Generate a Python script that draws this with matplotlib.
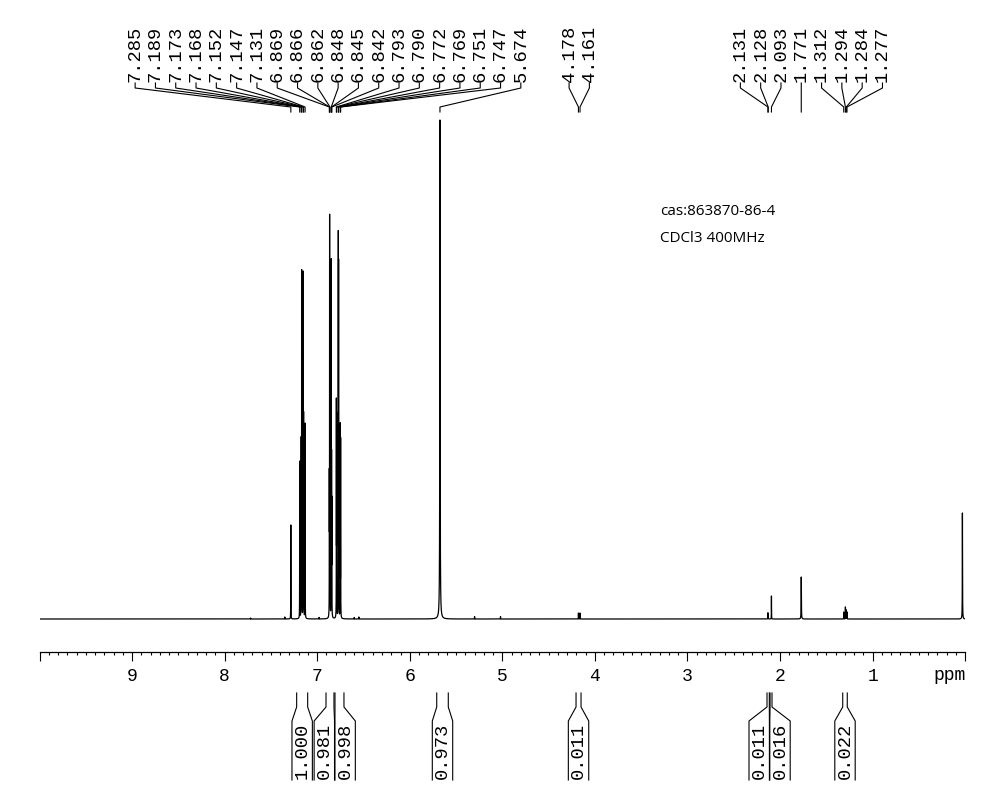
import numpy as np
import matplotlib.pyplot as plt
from matplotlib.ticker import MultipleLocator

# labelled lines (ppm) and their heights above the baseline
peak_ppm = [7.285, 7.189, 7.173, 7.168, 7.152, 7.147, 7.131,
            6.869, 6.866, 6.862, 6.848, 6.845, 6.842,
            6.793, 6.790, 6.772, 6.769, 6.751, 6.747,
            5.674, 4.178, 4.161,
            2.131, 2.128, 2.093, 1.771,
            1.312, 1.294, 1.284, 1.277]
peak_height = [94, 157, 175, 345, 343, 200, 195,
               128, 392, 180, 350, 145, 110,
               210, 195, 370, 340, 190, 175,
               499, 6, 6,
               6, 5, 23, 42,
               7, 12, 9, 7]

# unlabelled lines: TMS and a few small impurity bumps
extra_ppm = [0.03, 7.35, 7.72, 6.98, 6.60, 6.55, 5.30, 5.02]
extra_height = [106, 2, 1, 1.5, 1.5, 2, 2.5, 2.5]

# integrals
integral_from = [7.222, 6.905, 6.808, 5.709, 4.204, 2.141, 2.108, 1.323]
integral_to = [7.103, 6.819, 6.711, 5.584, 4.150, 2.116, 2.087, 1.274]
integral_value = ["1.000", "0.981", "0.998", "0.973", "0.011", "0.011", "0.016", "0.022"]

sample_info = ["cas:863870-86-4", "CDCl3 400MHz"]
ppm_ticks = [9, 8, 7, 6, 5, 4, 3, 2, 1]

W, H = 992, 800
X0, X1 = 39.5, 965.2      # pixel x of 10 ppm and 0 ppm
AX_Y = 652                # pixel y of the ppm axis line
BASE_Y = 619              # pixel y of the spectrum baseline
TOP_Y = 112
MONO = "Liberation Mono"


def to_px(ppm):
    return X0 + (10 - ppm) * (X1 - X0) / 10


def lorentz_sum(x, centres, heights, hwhm=0.0007, broad=None):
    broad = broad or {}
    y = np.zeros_like(x)
    for c, h in zip(centres, heights):
        w = broad.get(c, hwhm)
        y += h / (1 + ((x - c) / w) ** 2)
    return y


def spread(xs, gap):
    # push labels apart into clusters, each cluster centred on its own peaks
    clusters = [[x] for x in xs]
    merged = True
    while merged:
        merged = False
        out = []
        for cl in clusters:
            if out:
                prev = out[-1]
                prev_last = np.mean(prev) + (len(prev) - 1) / 2 * gap
                cur_first = np.mean(cl) - (len(cl) - 1) / 2 * gap
                if cur_first - prev_last < gap:
                    out[-1] = prev + cl
                    merged = True
                    continue
            out.append(cl)
        clusters = out
    pos = []
    for cl in clusters:
        c = np.mean(cl)
        n = len(cl)
        pos += [c + (i - (n - 1) / 2) * gap for i in range(n)]
    return pos


fig = plt.figure(figsize=(W / 100, H / 100), dpi=100)

# spectrum axes, intensity in the same units as the heights above
ax = fig.add_axes([X0 / W, (H - AX_Y) / H, (X1 - X0) / W, (AX_Y - TOP_Y) / H])
ppm = np.linspace(10, 0, 100001)
spec = lorentz_sum(ppm, peak_ppm + extra_ppm, peak_height + extra_height,
                   broad={5.674: 0.002, 0.03: 0.0012, 1.771: 0.0015})
ax.plot(ppm, spec, color="black", lw=0.9)
ax.set_xlim(10, 0)
ax.set_ylim(-(AX_Y - BASE_Y), BASE_Y - TOP_Y)
for s in ["top", "left", "right"]:
    ax.spines[s].set_visible(False)
ax.spines["bottom"].set_linewidth(0.9)
ax.set_yticks([])
ax.set_xticks(range(0, 11))
ax.set_xticklabels([""] + [str(t) for t in sorted(ppm_ticks)] + [""])
ax.xaxis.set_minor_locator(MultipleLocator(0.1))
ax.tick_params(axis="x", which="major", direction="out", length=6.5, width=0.8, pad=5,
               labelsize=13, labelfontfamily=MONO)
ax.tick_params(axis="x", which="minor", direction="out", length=2.5, width=0.8)

# overlay in pixel coordinates for peak labels, integrals and notes
ov = fig.add_axes([0, 0, 1, 1], zorder=5)
ov.set_xlim(0, W)
ov.set_ylim(H, 0)
ov.axis("off")
ov.patch.set_alpha(0)

ov.text(X1, 676, "ppm", ha="right", va="center", family=MONO, fontsize=13)

# peak labels with leaders
peak_px = [to_px(p) for p in peak_ppm]
label_px = spread(peak_px, 20.3)
for p, lx, px in zip(peak_ppm, label_px, peak_px):
    ov.text(lx, 82, "%.3f" % p, rotation=90, ha="center", va="bottom",
            family=MONO, fontsize=13.5)
    ov.plot([lx, lx, px, px], [83, 88, 107, 112], color="black", lw=0.8)

# integral brackets
centres = [(to_px(a) + to_px(b)) / 2 for a, b in zip(integral_from, integral_to)]
box_c = spread(centres, 20.8)
for a, b, bc, val in zip(integral_from, integral_to, box_c, integral_value):
    x1, x2 = to_px(a), to_px(b)
    b1, b2 = bc - 10.2, bc + 10.2
    ov.plot([x1, x1, b1, b1], [693, 707, 721, 780], color="black", lw=0.8)
    ov.plot([x2, x2, b2, b2], [693, 707, 721, 780], color="black", lw=0.8)
    ov.text(bc, 751, val, rotation=90, ha="center", va="center",
            family=MONO, fontsize=13.5)

ov.text(660, 211.5, sample_info[0], ha="left", va="center", family="Open Sans", fontsize=11)
ov.text(660, 238.5, sample_info[1], ha="left", va="center", family="Open Sans", fontsize=11)

fig.savefig("out.png", dpi=100, facecolor="white")
